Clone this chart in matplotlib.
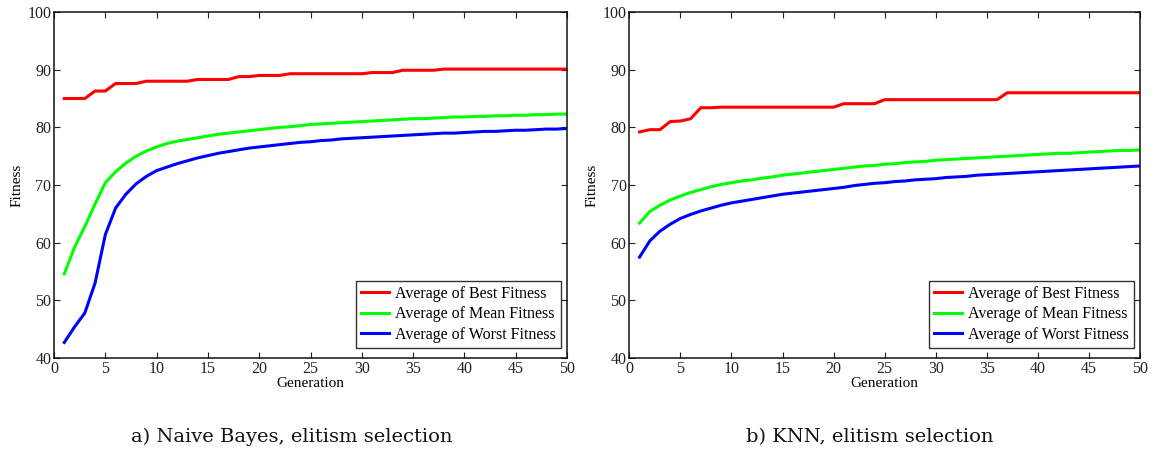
import matplotlib
matplotlib.use("Agg")
import matplotlib.pyplot as plt
import numpy as np

generations = list(range(1, 51))

nb_best = [85.0, 85.0, 85.0, 86.3, 86.3, 87.6, 87.6, 87.6, 88.0, 88.0,
           88.0, 88.0, 88.0, 88.3, 88.3, 88.3, 88.3, 88.8, 88.8, 89.0,
           89.0, 89.0, 89.3, 89.3, 89.3, 89.3, 89.3, 89.3, 89.3, 89.3,
           89.5, 89.5, 89.5, 89.9, 89.9, 89.9, 89.9, 90.1, 90.1, 90.1,
           90.1, 90.1, 90.1, 90.1, 90.1, 90.1, 90.1, 90.1, 90.1, 90.1]
nb_mean = [54.6, 59.2, 62.8, 66.7, 70.4, 72.3, 73.8, 75.0, 75.9, 76.6,
           77.2, 77.6, 77.9, 78.2, 78.5, 78.8, 79.0, 79.2, 79.4, 79.6,
           79.8, 80.0, 80.1, 80.3, 80.5, 80.6, 80.7, 80.8, 80.9, 81.0,
           81.1, 81.2, 81.3, 81.4, 81.5, 81.5, 81.6, 81.7, 81.8, 81.8,
           81.9, 81.9, 82.0, 82.0, 82.1, 82.1, 82.2, 82.2, 82.3, 82.3]
nb_worst = [42.7, 45.4, 47.8, 53.0, 61.4, 66.0, 68.4, 70.2, 71.5, 72.5,
            73.1, 73.7, 74.2, 74.7, 75.1, 75.5, 75.8, 76.1, 76.4, 76.6,
            76.8, 77.0, 77.2, 77.4, 77.5, 77.7, 77.8, 78.0, 78.1, 78.2,
            78.3, 78.4, 78.5, 78.6, 78.7, 78.8, 78.9, 79.0, 79.0, 79.1,
            79.2, 79.3, 79.3, 79.4, 79.5, 79.5, 79.6, 79.7, 79.7, 79.8]

knn_best = [79.2, 79.6, 79.6, 81.0, 81.1, 81.5, 83.4, 83.4, 83.5, 83.5,
            83.5, 83.5, 83.5, 83.5, 83.5, 83.5, 83.5, 83.5, 83.5, 83.5,
            84.1, 84.1, 84.1, 84.1, 84.8, 84.8, 84.8, 84.8, 84.8, 84.8,
            84.8, 84.8, 84.8, 84.8, 84.8, 84.8, 86.0, 86.0, 86.0, 86.0,
            86.0, 86.0, 86.0, 86.0, 86.0, 86.0, 86.0, 86.0, 86.0, 86.0]
knn_mean = [63.4, 65.4, 66.5, 67.4, 68.1, 68.7, 69.2, 69.7, 70.1, 70.4,
            70.7, 70.9, 71.2, 71.4, 71.7, 71.9, 72.1, 72.3, 72.5, 72.7,
            72.9, 73.1, 73.3, 73.4, 73.6, 73.7, 73.9, 74.0, 74.1, 74.3,
            74.4, 74.5, 74.6, 74.7, 74.8, 74.9, 75.0, 75.1, 75.2, 75.3,
            75.4, 75.5, 75.5, 75.6, 75.7, 75.8, 75.9, 76.0, 76.0, 76.1]
knn_worst = [57.5, 60.3, 62.0, 63.2, 64.2, 64.9, 65.5, 66.0, 66.5, 66.9,
             67.2, 67.5, 67.8, 68.1, 68.4, 68.6, 68.8, 69.0, 69.2, 69.4,
             69.6, 69.9, 70.1, 70.3, 70.4, 70.6, 70.7, 70.9, 71.0, 71.1,
             71.3, 71.4, 71.5, 71.7, 71.8, 71.9, 72.0, 72.1, 72.2, 72.3,
             72.4, 72.5, 72.6, 72.7, 72.8, 72.9, 73.0, 73.1, 73.2, 73.3]

series_labels = ["Average of Best Fitness", "Average of Mean Fitness",
                 "Average of Worst Fitness"]
series_colors = ["#ff0000", "#00ff00", "#0000ff"]
captions = ["a) Naive Bayes, elitism selection", "b) KNN, elitism selection"]

x_ticks = list(range(0, 51, 5))
y_ticks = list(range(40, 101, 10))

plt.rcParams["font.family"] = ["Liberation Serif", "DejaVu Serif"]

fig = plt.figure(figsize=(11.52, 4.5), dpi=100)
ax_left = fig.add_axes([0.0469, 0.2044, 0.4453, 0.7689])
ax_right = fig.add_axes([0.5463, 0.2044, 0.4433, 0.7689])

panels = [(ax_left, [nb_best, nb_mean, nb_worst]),
          (ax_right, [knn_best, knn_mean, knn_worst])]

for ax, data in panels:
    for values, label, color in zip(data, series_labels, series_colors):
        ax.plot(generations, values, color=color, lw=2.2, label=label)
    ax.set_xlim(0, 50)
    ax.set_ylim(40, 100)
    ax.set_xticks(x_ticks)
    ax.set_yticks(y_ticks)
    ax.tick_params(direction="in", top=True, right=True, length=4,
                   width=0.8, labelsize=11.5, pad=2, colors="#222222")
    for spine in ax.spines.values():
        spine.set_linewidth(1.1)
        spine.set_color("#111111")
    ax.set_xlabel("Generation", fontsize=11, labelpad=0)
    ax.set_ylabel("Fitness", fontsize=11, labelpad=3)
    leg = ax.legend(loc="lower right", bbox_to_anchor=(0.988, 0.03),
                    fontsize=11.5, frameon=True, fancybox=False,
                    borderpad=0.3, labelspacing=0.28, handlelength=1.75,
                    handletextpad=0.4, borderaxespad=0)
    leg.get_frame().set_edgecolor("black")
    leg.get_frame().set_linewidth(1.0)

caption_font = ["DejaVu Serif"]
fig.text(0.2535, 0.018, captions[0], fontsize=14, ha="center",
         va="baseline", family=caption_font, color="#111111")
fig.text(0.755, 0.018, captions[1], fontsize=14, ha="center",
         va="baseline", family=caption_font, color="#111111")

fig.savefig("out.png", dpi=100)
